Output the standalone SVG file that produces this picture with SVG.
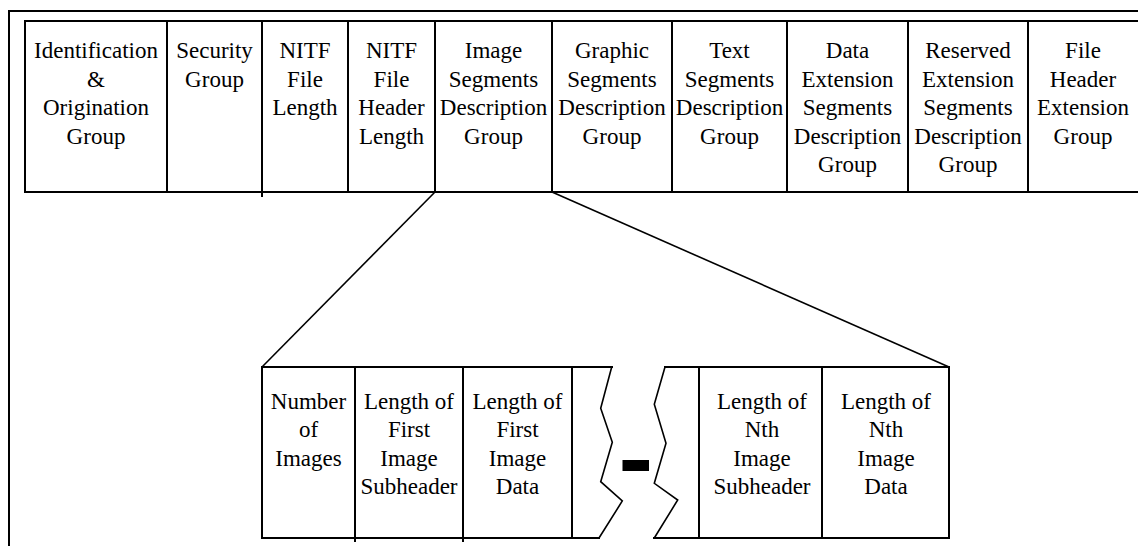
<svg xmlns="http://www.w3.org/2000/svg" width="1138" height="546" viewBox="0 0 1138 546">
<style>
.ln{stroke:#000;stroke-width:2;fill:none;stroke-linecap:square}
.zz{stroke:#000;stroke-width:1.6;fill:none;stroke-linejoin:miter}
.t{font-family:'Liberation Serif',Tinos,'Times New Roman',Times,serif;font-size:23px;fill:#000;text-anchor:middle}
</style>
<rect width="1138" height="546" fill="#fff"/>
<g id="frame">
<path class="ln" d="M9,546 V11 H1138"/>
</g>
<g id="file-header" class="t" font-family="Liberation Serif, Times New Roman, serif">
<path class="ln" d="M25,21 H1138 M25,192 H1138 M25,21 V192"/>
<g id="identification"><path class="ln" d="M167,21 V192"/><text><tspan x="96" y="58">Identification</tspan><tspan x="96" y="86.5">&amp;</tspan><tspan x="96" y="115">Origination</tspan><tspan x="96" y="143.5">Group</tspan></text></g>
<g id="security"><path class="ln" d="M262,21 V196"/><text><tspan x="214.5" y="58">Security</tspan><tspan x="214.5" y="86.5">Group</tspan></text></g>
<g id="file-length"><path class="ln" d="M348,21 V192"/><text><tspan x="305" y="58">NITF</tspan><tspan x="305" y="86.5">File</tspan><tspan x="305" y="115">Length</tspan></text></g>
<g id="header-length"><path class="ln" d="M435,21 V192"/><text><tspan x="391.5" y="58">NITF</tspan><tspan x="391.5" y="86.5">File</tspan><tspan x="391.5" y="115">Header</tspan><tspan x="391.5" y="143.5">Length</tspan></text></g>
<g id="image-segments"><path class="ln" d="M552,21 V192"/><text><tspan x="493.5" y="58">Image</tspan><tspan x="493.5" y="86.5">Segments</tspan><tspan x="493.5" y="115">Description</tspan><tspan x="493.5" y="143.5">Group</tspan></text></g>
<g id="graphic-segments"><path class="ln" d="M672,21 V192"/><text><tspan x="612" y="58">Graphic</tspan><tspan x="612" y="86.5">Segments</tspan><tspan x="612" y="115">Description</tspan><tspan x="612" y="143.5">Group</tspan></text></g>
<g id="text-segments"><path class="ln" d="M787,21 V192"/><text><tspan x="729.5" y="58">Text</tspan><tspan x="729.5" y="86.5">Segments</tspan><tspan x="729.5" y="115">Description</tspan><tspan x="729.5" y="143.5">Group</tspan></text></g>
<g id="data-extension"><path class="ln" d="M908,21 V192"/><text><tspan x="847.5" y="58">Data</tspan><tspan x="847.5" y="86.5">Extension</tspan><tspan x="847.5" y="115">Segments</tspan><tspan x="847.5" y="143.5">Description</tspan><tspan x="847.5" y="172">Group</tspan></text></g>
<g id="reserved-extension"><path class="ln" d="M1028,21 V192"/><text><tspan x="968" y="58">Reserved</tspan><tspan x="968" y="86.5">Extension</tspan><tspan x="968" y="115">Segments</tspan><tspan x="968" y="143.5">Description</tspan><tspan x="968" y="172">Group</tspan></text></g>
<g id="header-extension"><text><tspan x="1083" y="58">File</tspan><tspan x="1083" y="86.5">Header</tspan><tspan x="1083" y="115">Extension</tspan><tspan x="1083" y="143.5">Group</tspan></text></g>
</g>
<g id="connectors">
<path class="zz" d="M435,192 L262,367"/>
<path class="zz" d="M552,192 L949,367"/>
</g>
<g id="image-subfields" class="t" font-family="Liberation Serif, Times New Roman, serif">
<path class="ln" d="M262,367 H612 M262,538 H599 M262,367 V538 M572,367 V538"/>
<g id="number-of-images"><path class="ln" d="M355,367 V541"/><text><tspan x="308.5" y="408.5">Number</tspan><tspan x="308.5" y="437">of</tspan><tspan x="308.5" y="465.5">Images</tspan></text></g>
<g id="first-subheader"><path class="ln" d="M463,367 V541"/><text><tspan x="409" y="408.5">Length of</tspan><tspan x="409" y="437">First</tspan><tspan x="409" y="465.5">Image</tspan><tspan x="409" y="494">Subheader</tspan></text></g>
<g id="first-data"><text><tspan x="517.5" y="408.5">Length of</tspan><tspan x="517.5" y="437">First</tspan><tspan x="517.5" y="465.5">Image</tspan><tspan x="517.5" y="494">Data</tspan></text></g>
<g id="break">
<path class="zz" d="M611.7,367 L600.7,408.3 L612.3,442.3 L600.7,481.7 L622.3,501 L599,538"/>
<path class="zz" d="M665,367 L654.3,404.3 L666,443.3 L654.3,483.3 L677.7,500 L654.3,538"/>
<rect x="622.5" y="460" width="26.5" height="11" fill="#000"/>
</g>
<path class="ln" d="M665,367 H949 M654,538 H949 M699,367 V538 M949,367 V538"/>
<g id="nth-subheader"><path class="ln" d="M822,367 V538"/><text><tspan x="762" y="408.5">Length of</tspan><tspan x="762" y="437">Nth</tspan><tspan x="762" y="465.5">Image</tspan><tspan x="762" y="494">Subheader</tspan></text></g>
<g id="nth-data"><text><tspan x="886" y="408.5">Length of</tspan><tspan x="886" y="437">Nth</tspan><tspan x="886" y="465.5">Image</tspan><tspan x="886" y="494">Data</tspan></text></g>
</g>
</svg>
